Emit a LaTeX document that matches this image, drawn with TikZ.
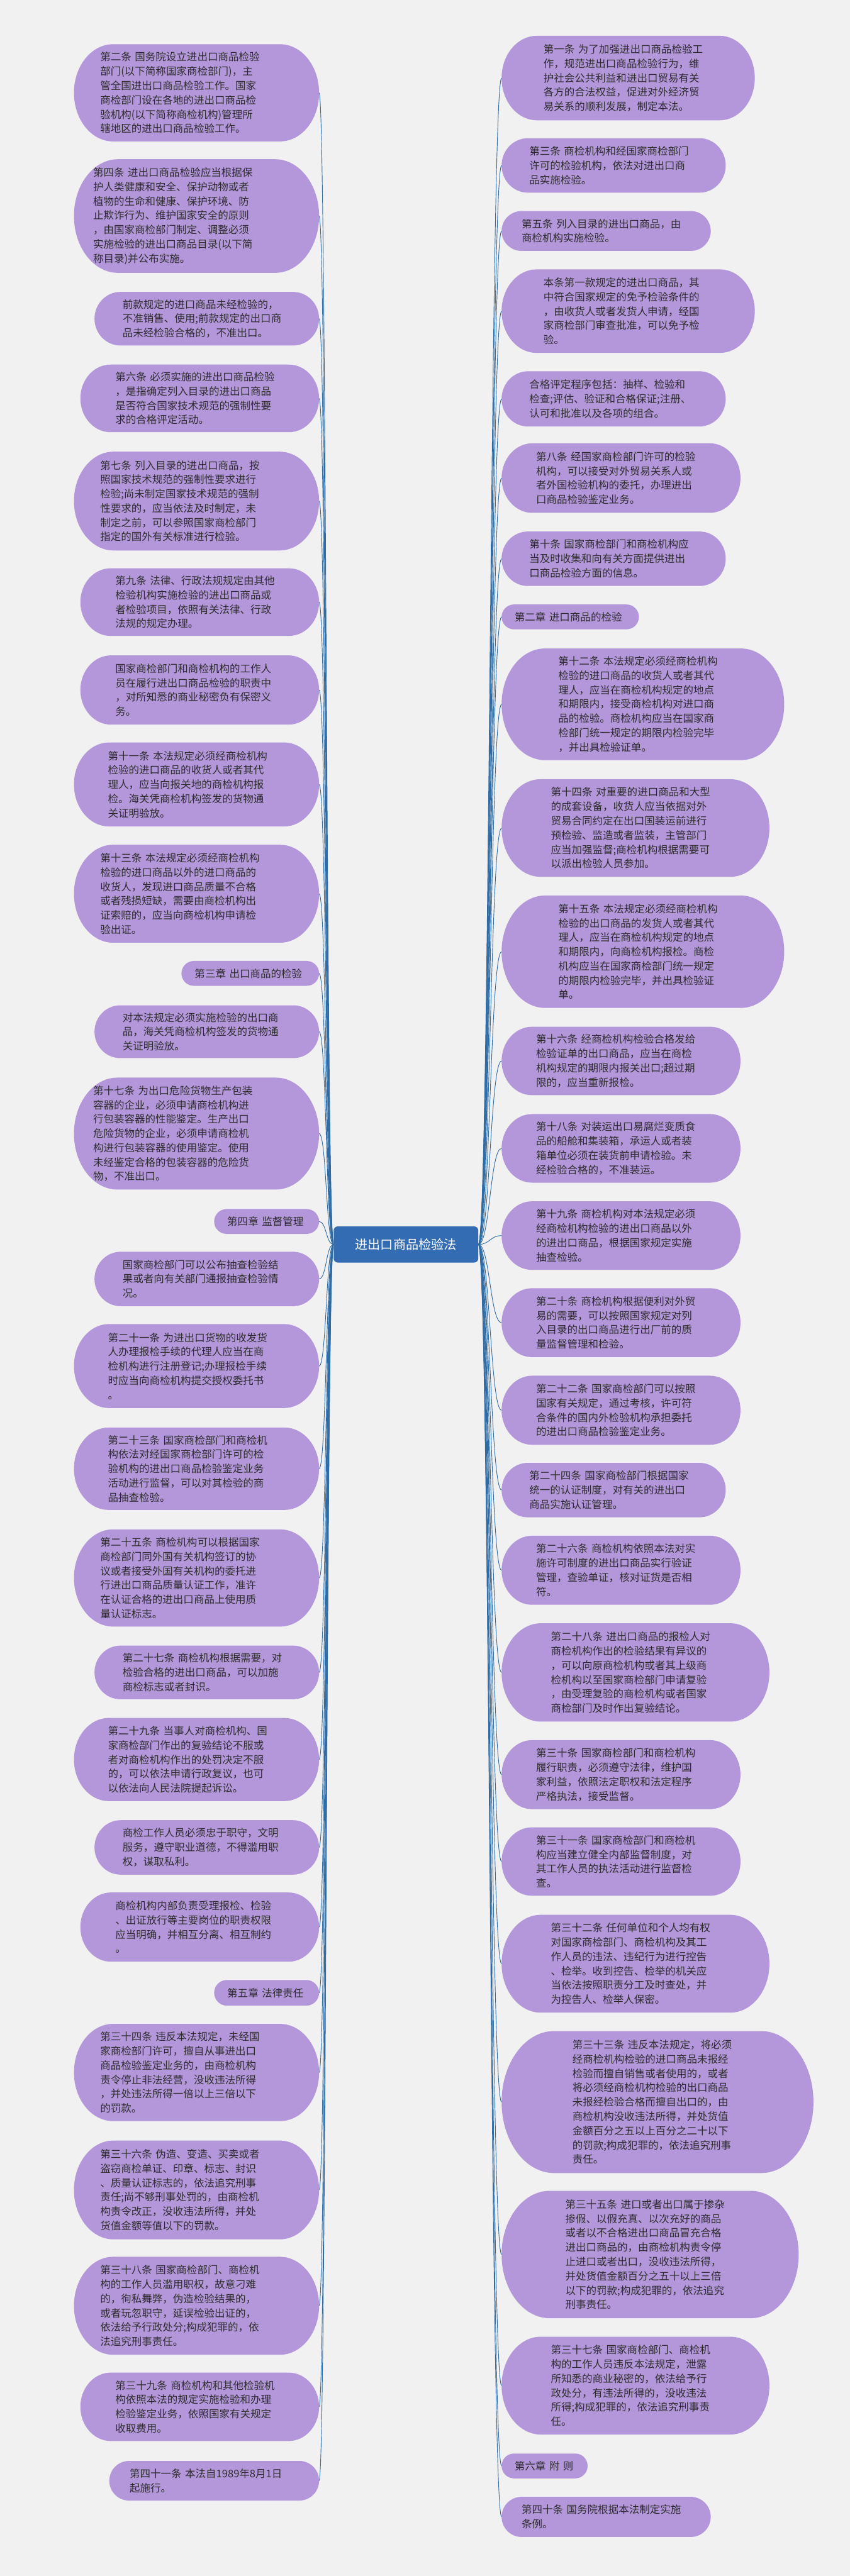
\documentclass[tikz,border=0pt]{standalone}
\usepackage{fontspec}
\setmainfont{Noto Sans CJK SC}
\usepackage{xcolor}
\usetikzlibrary{calc,backgrounds}

\definecolor{bgGray}{RGB}{241,241,241}
\definecolor{bubPurple}{RGB}{180,150,218}
\definecolor{linkBlue}{RGB}{47,108,165}
\definecolor{hubBlue}{RGB}{52,108,180}
\definecolor{txtGray}{RGB}{45,45,45}

\begin{document}
\begin{tikzpicture}[x=1mm,y=1mm,
    bub/.style n args={3}{anchor=west,align=left,text=txtGray,inner ysep=0pt,
      font=\fontsize{18}{24.8}\selectfont,
      minimum width=#1mm,minimum height=#2mm,inner xsep=#3mm,
      /utils/exec={\pgfmathsetlengthmacro\bubtw{(#1-2*#3)*1mm}},text width=\bubtw},
    link/.style={draw=linkBlue,line width=1pt},
    hub/.style={fill=hubBlue,text=white,rounded corners=2.5mm,
      minimum width=88mm,minimum height=22mm,font=\fontsize{22}{26}\selectfont}]
  % centre
  \node[hub] (hub) at (247,-757.5) {进出口商品检验法};
  % left column
  \node[bub={149}{59}{15.9}] (l1) at (45,-56.5) {第二条~国务院设立进出口商品检验\\部门(以下简称国家商检部门)，主\\管全国进出口商品检验工作。国家\\商检部门设在各地的进出口商品检\\验机构(以下简称商检机构)管理所\\辖地区的进出口商品检验工作。};
  \node[bub={149}{69}{11.6}] (l2) at (45,-131.5) {第四条~进出口商品检验应当根据保\\护人类健康和安全、保护动物或者\\植物的生命和健康、保护环境、防\\止欺诈行为、维护国家安全的原则\\，由国家商检部门制定、调整必须\\实施检验的进出口商品目录(以下简\\称目录)并公布实施。};
  \node[bub={136.5}{32.5}{17}] (l3) at (57.5,-194) {前款规定的进口商品未经检验的，\\不准销售、使用;前款规定的出口商\\品未经检验合格的，不准出口。};
  \node[bub={145.1}{41}{21.2}] (l4) at (48.9,-242.5) {第六条~必须实施的进出口商品检验\\，是指确定列入目录的进出口商品\\是否符合国家技术规范的强制性要\\求的合格评定活动。};
  \node[bub={149}{60}{15.9}] (l5) at (45,-305) {第七条~列入目录的进出口商品，按\\照国家技术规范的强制性要求进行\\检验;尚未制定国家技术规范的强制\\性要求的，应当依法及时制定，未\\制定之前，可以参照国家商检部门\\指定的国外有关标准进行检验。};
  \node[bub={145.1}{41}{21.2}] (l6) at (48.9,-366.5) {第九条~法律、行政法规规定由其他\\检验机构实施检验的进出口商品或\\者检验项目，依照有关法律、行政\\法规的规定办理。};
  \node[bub={145.1}{42}{21.2}] (l7) at (48.9,-420) {国家商检部门和商检机构的工作人\\员在履行进出口商品检验的职责中\\，对所知悉的商业秘密负有保密义\\务。};
  \node[bub={149}{51}{20.6}] (l8) at (45,-477.5) {第十一条~本法规定必须经商检机构\\检验的进口商品的收货人或者其代\\理人，应当向报关地的商检机构报\\检。海关凭商检机构签发的货物通\\关证明验放。};
  \node[bub={149}{59.5}{15.9}] (l9) at (45,-544) {第十三条~本法规定必须经商检机构\\检验的进口商品以外的进口商品的\\收货人，发现进口商品质量不合格\\或者残损短缺，需要由商检机构出\\证索赔的，应当向商检机构申请检\\验出证。};
  \node[bub={83.6}{15}{8}] (l10) at (110.4,-592.5) {第三章~出口商品的检验};
  \node[bub={136.5}{32}{17}] (l11) at (57.5,-628) {对本法规定必须实施检验的出口商\\品，海关凭商检机构签发的货物通\\关证明验放。};
  \node[bub={149}{68}{11.6}] (l12) at (45,-690) {第十七条~为出口危险货物生产包装\\容器的企业，必须申请商检机构进\\行包装容器的性能鉴定。生产出口\\危险货物的企业，必须申请商检机\\构进行包装容器的使用鉴定。使用\\未经鉴定合格的包装容器的危险货\\物，不准出口。};
  \node[bub={63.7}{15}{7.9}] (l13) at (130.3,-743.5) {第四章~监督管理};
  \node[bub={136.5}{33}{17}] (l14) at (57.5,-778.5) {国家商检部门可以公布抽查检验结\\果或者向有关部门通报抽查检验情\\况。};
  \node[bub={149}{51}{20.6}] (l15) at (45,-831.5) {第二十一条~为进出口货物的收发货\\人办理报检手续的代理人应当在商\\检机构进行注册登记;办理报检手续\\时应当向商检机构提交授权委托书\\。};
  \node[bub={149}{50}{20.6}] (l16) at (45,-894) {第二十三条~国家商检部门和商检机\\构依法对经国家商检部门许可的检\\验机构的进出口商品检验鉴定业务\\活动进行监督，可以对其检验的商\\品抽查检验。};
  \node[bub={149}{59}{15.9}] (l17) at (45,-960.5) {第二十五条~商检机构可以根据国家\\商检部门同外国有关机构签订的协\\议或者接受外国有关机构的委托进\\行进出口商品质量认证工作，准许\\在认证合格的进出口商品上使用质\\量认证标志。};
  \node[bub={136.5}{32.5}{17}] (l18) at (57.5,-1018) {第二十七条~商检机构根据需要，对\\检验合格的进出口商品，可以加施\\商检标志或者封识。};
  \node[bub={149}{50.5}{20.6}] (l19) at (45,-1071) {第二十九条~当事人对商检机构、国\\家商检部门作出的复验结论不服或\\者对商检机构作出的处罚决定不服\\的，可以依法申请行政复议，也可\\以依法向人民法院提起诉讼。};
  \node[bub={136.5}{33}{17}] (l20) at (57.5,-1124.5) {商检工作人员必须忠于职守，文明\\服务，遵守职业道德，不得滥用职\\权，谋取私利。};
  \node[bub={145.1}{42}{21.2}] (l21) at (48.9,-1173) {商检机构内部负责受理报检、检验\\、出证放行等主要岗位的职责权限\\应当明确，并相互分离、相互制约\\。};
  \node[bub={63.7}{15.5}{7.9}] (l22) at (130.3,-1213) {第五章~法律责任};
  \node[bub={149}{59}{15.9}] (l23) at (45,-1261.5) {第三十四条~违反本法规定，未经国\\家商检部门许可，擅自从事进出口\\商品检验鉴定业务的，由商检机构\\责令停止非法经营，没收违法所得\\，并处违法所得一倍以上三倍以下\\的罚款。};
  \node[bub={149}{60}{15.9}] (l24) at (45,-1333) {第三十六条~伪造、变造、买卖或者\\盗窃商检单证、印章、标志、封识\\、质量认证标志的，依法追究刑事\\责任;尚不够刑事处罚的，由商检机\\构责令改正，没收违法所得，并处\\货值金额等值以下的罚款。};
  \node[bub={149}{59.5}{15.9}] (l25) at (45,-1403.5) {第三十八条~国家商检部门、商检机\\构的工作人员滥用职权，故意刁难\\的，徇私舞弊，伪造检验结果的，\\或者玩忽职守，延误检验出证的，\\依法给予行政处分;构成犯罪的，依\\法追究刑事责任。};
  \node[bub={145.1}{41.5}{21.2}] (l26) at (48.9,-1465) {第三十九条~商检机构和其他检验机\\构依照本法的规定实施检验和办理\\检验鉴定业务，依照国家有关规定\\收取费用。};
  \node[bub={127.5}{24}{12.3}] (l27) at (66.5,-1510) {第四十一条~本法自1989年8月1日\\起施行。};
  % right column
  \node[bub={153.9}{51.3}{25.4}] (r1) at (305.2,-47.5) {第一条~为了加强进出口商品检验工\\作，规范进出口商品检验行为，维\\护社会公共利益和进出口贸易有关\\各方的合法权益，促进对外经济贸\\易关系的顺利发展，制定本法。};
  \node[bub={136.2}{33}{16.8}] (r2) at (305.2,-100.7) {第三条~商检机构和经国家商检部门\\许可的检验机构，依法对进出口商\\品实施检验。};
  \node[bub={127.1}{24.1}{12.1}] (r3) at (305.2,-140.6) {第五条~列入目录的进出口商品，由\\商检机构实施检验。};
  \node[bub={153.9}{50.7}{25.4}] (r4) at (305.2,-189.4) {本条第一款规定的进出口商品，其\\中符合国家规定的免予检验条件的\\，由收货人或者发货人申请，经国\\家商检部门审查批准，可以免予检\\验。};
  \node[bub={136.2}{33.5}{16.8}] (r5) at (305.2,-242.8) {合格评定程序包括：抽样、检验和\\检查;评估、验证和合格保证;注册、\\认可和批准以及各项的组合。};
  \node[bub={145.2}{42.2}{20.9}] (r6) at (305.2,-291) {第八条~经国家商检部门许可的检验\\机构，可以接受对外贸易关系人或\\者外国检验机构的委托，办理进出\\口商品检验鉴定业务。};
  \node[bub={136.2}{33}{16.8}] (r7) at (305.2,-340.1) {第十条~国家商检部门和商检机构应\\当及时收集和向有关方面提供进出\\口商品检验方面的信息。};
  \node[bub={83.4}{15}{7.8}] (r8) at (305.2,-375.5) {第二章~进口商品的检验};
  \node[bub={171.8}{67.8}{34.4}] (r9) at (305.2,-428.7) {第十二条~本法规定必须经商检机构\\检验的进口商品的收货人或者其代\\理人，应当在商检机构规定的地点\\和期限内，接受商检机构对进口商\\品的检验。商检机构应当在国家商\\检部门统一规定的期限内检验完毕\\，并出具检验证单。};
  \node[bub={162.8}{59.3}{29.9}] (r10) at (305.2,-504) {第十四条~对重要的进口商品和大型\\的成套设备，收货人应当依据对外\\贸易合同约定在出口国装运前进行\\预检验、监造或者监装，主管部门\\应当加强监督;商检机构根据需要可\\以派出检验人员参加。};
  \node[bub={171.8}{68.3}{34.4}] (r11) at (305.2,-579.3) {第十五条~本法规定必须经商检机构\\检验的出口商品的发货人或者其代\\理人，应当在商检机构规定的地点\\和期限内，向商检机构报检。商检\\机构应当在国家商检部门统一规定\\的期限内检验完毕，并出具检验证\\单。};
  \node[bub={145.2}{41.5}{20.9}] (r12) at (305.2,-645.8) {第十六条~经商检机构检验合格发给\\检验证单的出口商品，应当在商检\\机构规定的期限内报关出口;超过期\\限的，应当重新报检。};
  \node[bub={145.2}{41.6}{20.9}] (r13) at (305.2,-699) {第十八条~对装运出口易腐烂变质食\\品的船舱和集装箱，承运人或者装\\箱单位必须在装货前申请检验。未\\经检验合格的，不准装运。};
  \node[bub={145.2}{41.6}{20.9}] (r14) at (305.2,-752.1) {第十九条~商检机构对本法规定必须\\经商检机构检验的进出口商品以外\\的进出口商品，根据国家规定实施\\抽查检验。};
  \node[bub={145.2}{41.8}{20.9}] (r15) at (305.2,-805.1) {第二十条~商检机构根据便利对外贸\\易的需要，可以按照国家规定对列\\入目录的出口商品进行出厂前的质\\量监督管理和检验。};
  \node[bub={145.2}{41.9}{20.9}] (r16) at (305.2,-858.4) {第二十二条~国家商检部门可以按照\\国家有关规定，通过考核，许可符\\合条件的国内外检验机构承担委托\\的进出口商品检验鉴定业务。};
  \node[bub={136.2}{33}{16.8}] (r17) at (305.2,-907) {第二十四条~国家商检部门根据国家\\统一的认证制度，对有关的进出口\\商品实施认证管理。};
  \node[bub={145.2}{41.9}{20.9}] (r18) at (305.2,-955.8) {第二十六条~商检机构依照本法对实\\施许可制度的进出口商品实行验证\\管理，查验单证，核对证货是否相\\符。};
  \node[bub={162.8}{59.7}{29.9}] (r19) at (305.2,-1018) {第二十八条~进出口商品的报检人对\\商检机构作出的检验结果有异议的\\，可以向原商检机构或者其上级商\\检机构以至国家商检部门申请复验\\，由受理复验的商检机构或者国家\\商检部门及时作出复验结论。};
  \node[bub={145.2}{41.9}{20.9}] (r20) at (305.2,-1080.2) {第三十条~国家商检部门和商检机构\\履行职责，必须遵守法律，维护国\\家利益，依照法定职权和法定程序\\严格执法，接受监督。};
  \node[bub={145.2}{41.5}{20.9}] (r21) at (305.2,-1133.1) {第三十一条~国家商检部门和商检机\\构应当建立健全内部监督制度，对\\其工作人员的执法活动进行监督检\\查。};
  \node[bub={162.8}{59.4}{29.9}] (r22) at (305.2,-1195.3) {第三十二条~任何单位和个人均有权\\对国家商检部门、商检机构及其工\\作人员的违法、违纪行为进行控告\\、检举。收到控告、检举的机关应\\当依法按照职责分工及时查处，并\\为控告人、检举人保密。};
  \node[bub={189.6}{86.3}{43}] (r23) at (305.2,-1279.5) {第三十三条~违反本法规定，将必须\\经商检机构检验的进口商品未报经\\检验而擅自销售或者使用的，或者\\将必须经商检机构检验的出口商品\\未报经检验合格而擅自出口的，由\\商检机构没收违法所得，并处货值\\金额百分之五以上百分之二十以下\\的罚款;构成犯罪的，依法追究刑事\\责任。};
  \node[bub={180.6}{77.4}{38.7}] (r24) at (305.2,-1372.3) {第三十五条~进口或者出口属于掺杂\\掺假、以假充真、以次充好的商品\\或者以不合格进出口商品冒充合格\\进出口商品的，由商检机构责令停\\止进口或者出口，没收违法所得，\\并处货值金额百分之五十以上三倍\\以下的罚款;构成犯罪的，依法追究\\刑事责任。};
  \node[bub={162.8}{59.4}{29.9}] (r25) at (305.2,-1452.1) {第三十七条~国家商检部门、商检机\\构的工作人员违反本法规定，泄露\\所知悉的商业秘密的，依法给予行\\政处分，有违法所得的，没收违法\\所得;构成犯罪的，依法追究刑事责\\任。};
  \node[bub={52.2}{15}{7.8}] (r26) at (305.2,-1501) {第六章~附~则};
  \node[bub={127.1}{24.3}{12.1}] (r27) at (305.2,-1532) {第四十条~国务院根据本法制定实施\\条例。};
  % branches
  \foreach \i in {1,...,27}{
    \draw[link] (hub.west) .. controls +(-4.5,0) and +(4.5,0) .. (l\i.east);
    \draw[link] (hub.east) .. controls +(7,0) and +(-7,0) .. (r\i.west);
  }
  % bubbles and page
  \begin{scope}[on background layer]
    \fill[bgGray] (0,0) rectangle (517,-1568);
    \foreach \s in {l,r}
      \foreach \i in {1,...,27}
        \fill[bubPurple] let \p1=(\s\i.north west), \p2=(\s\i.south east),
            \n1={0.5*(\y1-\y2)}, \n2={min(\n1,6mm+0.6*\n1)} in
          (\x1+\n2,\y1) -- (\x2-\n2,\y1)
          arc[start angle=90,end angle=-90,x radius=\n2,y radius=\n1]
          -- (\x1+\n2,\y2)
          arc[start angle=270,end angle=90,x radius=\n2,y radius=\n1] -- cycle;
  \end{scope}
\end{tikzpicture}
\end{document}
